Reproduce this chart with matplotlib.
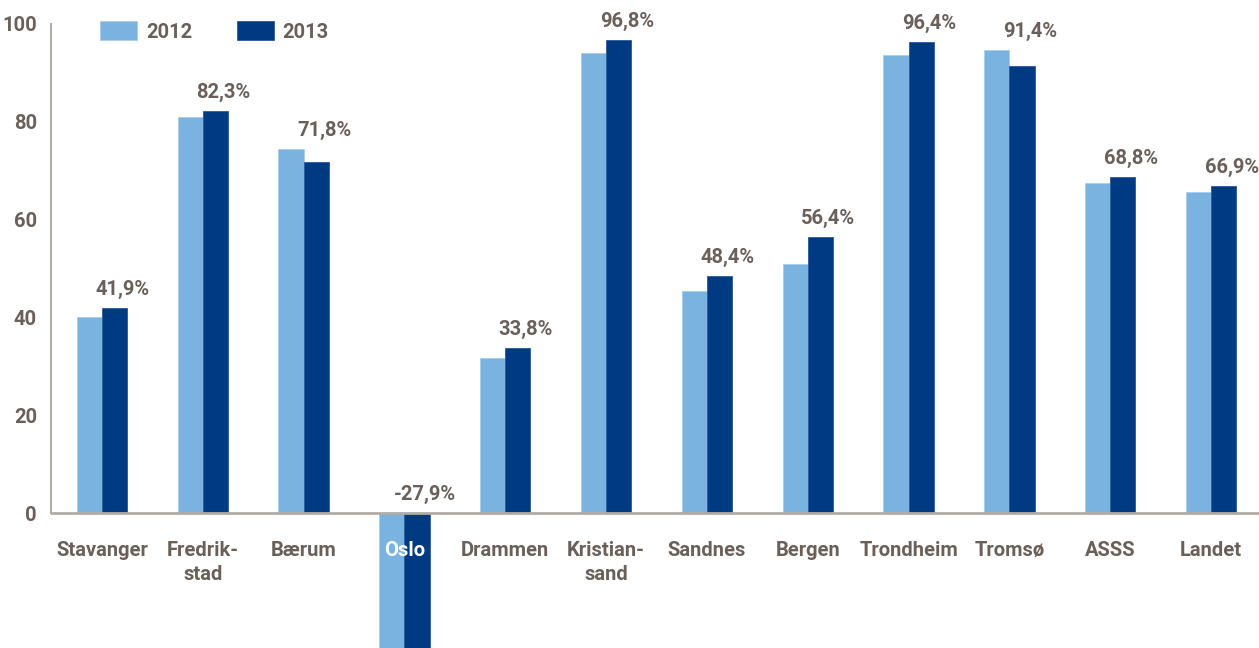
import matplotlib
matplotlib.use("Agg")
import matplotlib.pyplot as plt
import numpy as np

categories = ["Stavanger", "Fredrik-\nstad", "Bærum", "Oslo", "Drammen", "Kristian-\nsand",
              "Sandnes", "Bergen", "Trondheim", "Tromsø", "ASSS", "Landet"]
values_2012 = [40.0, 80.9, 74.5, -27.9, 31.7, 94.1, 45.3, 50.9, 93.6, 94.7, 67.4, 65.6]
values_2013 = [41.9, 82.3, 71.8, -27.9, 33.8, 96.8, 48.4, 56.4, 96.4, 91.4, 68.8, 66.9]
labels_2013 = ["41,9%", "82,3%", "71,8%", "-27,9%", "33,8%", "96,8%",
               "48,4%", "56,4%", "96,4%", "91,4%", "68,8%", "66,9%"]
yticks = [0, 20, 40, 60, 80, 100]
series_names = ["2012", "2013"]

c_light = "#7ab3df"
c_dark = "#003a82"
c_text = "#6a6059"
c_axis = "#b3aba5"

plt.rcParams['font.family'] = ['Roboto', 'DejaVu Sans']
FW = "bold"
FS = 14.5

fig = plt.figure(figsize=(12.59, 6.48), dpi=100)
ax = fig.add_axes([51/1259, 0, 1 - 51/1259, 1 - 24/648])

x = np.arange(len(categories))
w = 0.25
ax.bar(x - w/2, values_2012, width=w, color=c_light, edgecolor="#a8cdea", linewidth=0.6,
       label=series_names[0], zorder=2)
ax.bar(x + w/2, values_2013, width=w, color=c_dark, edgecolor="#2a5a9a", linewidth=0.6,
       label=series_names[1], zorder=2)

ax.set_xlim(-0.506, 11.476)
ax.set_ylim(-27.6, 100)

for s in ["top", "right", "bottom"]:
    ax.spines[s].set_visible(False)
ax.spines["left"].set_color(c_axis)
ax.spines["left"].set_linewidth(1.5)
ax.spines["left"].set_bounds(0, 100)
ax.axhline(0, color=c_axis, linewidth=2, zorder=3)

ax.set_xticks([])
ax.set_yticks(yticks)
ax.set_yticklabels([str(t) for t in yticks], fontsize=FS, color=c_text, fontweight=FW)
ax.tick_params(axis="y", length=0, pad=10)

for i, lab in enumerate(categories):
    col = "white" if values_2013[i] < 0 else c_text
    ax.text(x[i], -5.8, lab, ha="center", va="top", fontsize=FS, color=col,
            fontweight=FW, linespacing=1.3, zorder=4)

for i, lab in enumerate(labels_2013):
    v = max(values_2013[i], values_2012[i], 0)
    ax.annotate(lab, (x[i] + w/2, v), xytext=(8, 9), textcoords="offset pixels",
                ha="center", va="bottom", fontsize=FS, color=c_text, fontweight=FW)

leg = ax.legend(loc="upper left", bbox_to_anchor=(100/1259, 1 - 21/648),
                bbox_transform=fig.transFigure, ncol=2, frameon=False,
                fontsize=FS, handlelength=1.84, handleheight=1.1, handletextpad=0.45,
                columnspacing=2.2, borderpad=0, borderaxespad=0)
for t in leg.get_texts():
    t.set_color(c_text)
    t.set_fontweight(FW)

fig.savefig("out.png", dpi=100)
